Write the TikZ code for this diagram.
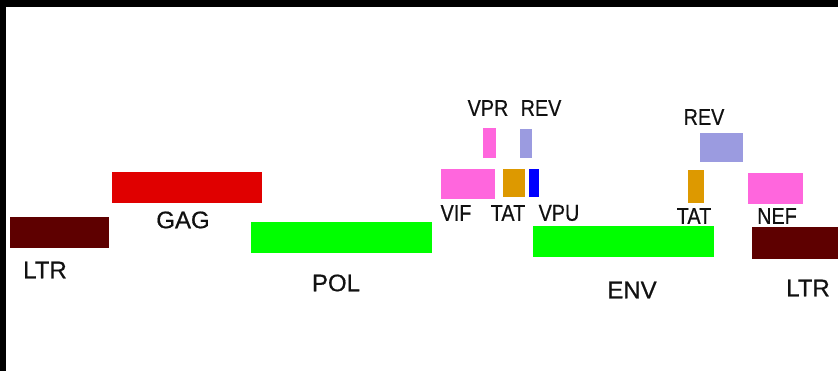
\documentclass[tikz,border=0pt]{standalone}
\usepackage{fontspec}
\setmainfont{Liberation Sans}[FakeBold=0.6]
\definecolor{ltrcol}{HTML}{5E0000}
\definecolor{gagcol}{HTML}{E00000}
\definecolor{polcol}{HTML}{00FF00}
\definecolor{pinkcol}{HTML}{FF66DD}
\definecolor{revcol}{HTML}{9B9BE0}
\definecolor{tatcol}{HTML}{DD9900}
\definecolor{vpucol}{HTML}{0000FF}
\definecolor{txtcol}{HTML}{111111}
\newcommand{\narrow}[1]{\scalebox{0.86}[1]{#1}}
\tikzset{
  gene/.style={inner sep=0pt, outer sep=0pt, draw=none},
  lbl/.style={inner sep=0pt, text=txtcol, font=\fontsize{24}{24}\selectfont},
  slbl/.style={lbl, font=\fontsize{23}{23}\selectfont}
}
\begin{document}
\begin{tikzpicture}[x=1pt,y=-1pt]
\useasboundingbox (0,0) rectangle (838,371);
% frame edges
\fill[white] (0,0) rectangle (838,371);
\fill[black] (0,0) rectangle (838,7);
\fill[black] (0,0) rectangle (6,371);

% genome segments
\node[gene, fill=ltrcol, minimum width=99pt, minimum height=31pt] (ltrL) at (59.5,232.5) {};
\node[gene, fill=gagcol, minimum width=150pt, minimum height=31pt] (gag) at (187,187.5) {};
\node[gene, fill=polcol, minimum width=181pt, minimum height=31pt] (pol) at (341.5,237.5) {};
\node[gene, fill=polcol, minimum width=181pt, minimum height=31pt] (env) at (623.5,241.5) {};
\node[gene, fill=ltrcol, minimum width=86pt, minimum height=32pt] (ltrR) at (795,243) {};
\node[gene, fill=pinkcol, minimum width=13pt, minimum height=30pt] (vpr) at (489.5,143) {};
\node[gene, fill=revcol, minimum width=12pt, minimum height=29pt] (revA) at (526,143.5) {};
\node[gene, fill=pinkcol, minimum width=54pt, minimum height=30pt] (vif) at (468,184) {};
\node[gene, fill=tatcol, minimum width=22pt, minimum height=28pt] (tatA) at (514,183) {};
\node[gene, fill=vpucol, minimum width=10pt, minimum height=28pt] (vpu) at (534,183) {};
\node[gene, fill=revcol, minimum width=43pt, minimum height=29pt] (revB) at (721.5,147.5) {};
\node[gene, fill=tatcol, minimum width=16pt, minimum height=33pt] (tatB) at (696,186.5) {};
\node[gene, fill=pinkcol, minimum width=55pt, minimum height=31pt] (nef) at (775.5,188.5) {};

% labels
\node[lbl] (tLtrL) at (45,270) {LTR};
\node[lbl] (tGag) at (183,220) {GAG};
\node[lbl] (tPol) at (336,283) {POL};
\node[lbl] (tEnv) at (632,290) {ENV};
\node[lbl] (tLtrR) at (808,288) {LTR};
\node[slbl] (tVif) at (456,213) {\narrow{VIF}};
\node[slbl] (tTatA) at (508,213) {\narrow{TAT}};
\node[slbl] (tVpu) at (559,213) {\narrow{VPU}};
\node[slbl] (tTatB) at (694,216) {\narrow{TAT}};
\node[slbl] (tNef) at (777,216) {\narrow{NEF}};
\node[slbl] (tVpr) at (488,108) {\narrow{VPR}};
\node[slbl] (tRevA) at (541,108) {\narrow{REV}};
\node[slbl] (tRevB) at (704,117) {\narrow{REV}};
\end{tikzpicture}
\end{document}
